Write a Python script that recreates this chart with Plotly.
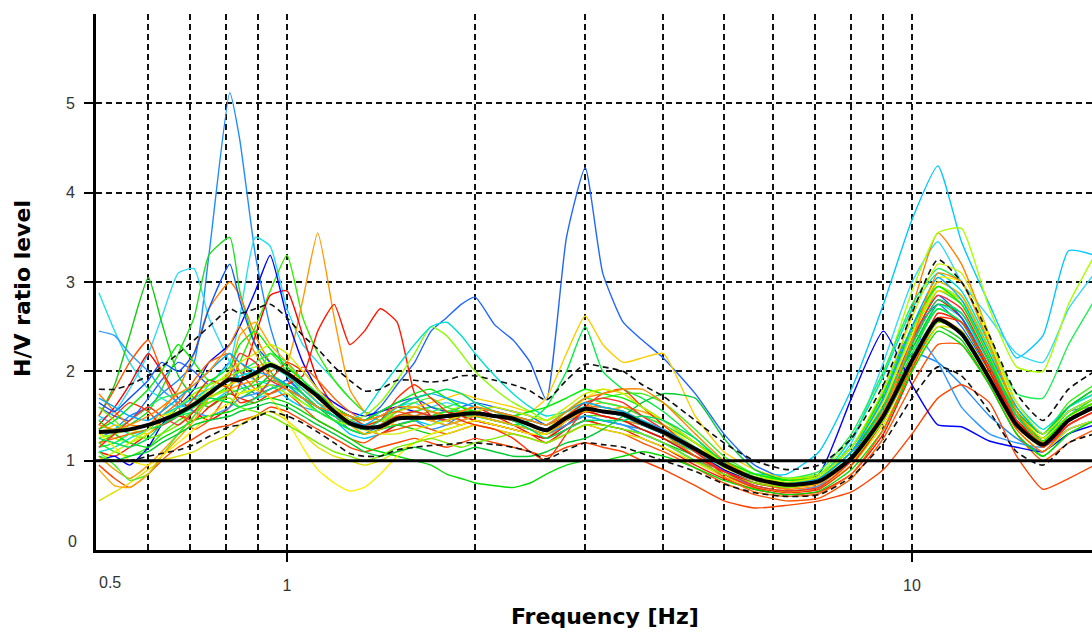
import plotly.graph_objects as go

# ---------------- data ----------------
FREQ = [0.50, 0.53, 0.56, 0.60, 0.63, 0.67, 0.71, 0.75, 0.81, 0.84,
        0.89, 0.94, 1.00, 1.06, 1.12, 1.19, 1.26, 1.33, 1.41, 1.50,
        1.60, 1.70, 1.80, 1.90, 2.00, 2.15, 2.30, 2.45, 2.60, 2.80,
        3.00, 3.20, 3.45, 3.70, 4.00, 4.50, 5.00, 5.60, 6.30, 7.10,
        8.00, 9.00, 10.0, 11.0, 12.0, 13.3, 14.7, 16.2, 17.8, 19.6]

MEAN = [1.32, 1.33, 1.35, 1.40, 1.45, 1.53, 1.63, 1.75, 1.91, 1.90,
        1.98, 2.07, 1.98, 1.85, 1.72, 1.55, 1.42, 1.37, 1.38, 1.47,
        1.48, 1.48, 1.50, 1.52, 1.53, 1.50, 1.47, 1.40, 1.34, 1.48,
        1.58, 1.55, 1.52, 1.42, 1.32, 1.13, 0.95, 0.80, 0.73, 0.77,
        1.03, 1.50, 2.12, 2.58, 2.42, 1.92, 1.40, 1.18, 1.45, 1.60]

UPPER = [1.80, 1.80, 1.85, 1.95, 2.05, 2.20, 2.35, 2.50, 2.70, 2.65,
         2.70, 2.75, 2.60, 2.40, 2.25, 2.05, 1.90, 1.78, 1.80, 1.90,
         1.90, 1.88, 1.90, 1.95, 1.95, 1.90, 1.85, 1.78, 1.68, 1.90,
         2.08, 2.05, 2.00, 1.85, 1.72, 1.45, 1.20, 1.00, 0.90, 0.95,
         1.25, 1.85, 2.65, 3.25, 3.00, 2.40, 1.75, 1.45, 1.80, 2.00]

LOWER = [1.00, 1.00, 1.00, 1.05, 1.08, 1.12, 1.18, 1.27, 1.38, 1.40,
         1.48, 1.55, 1.50, 1.42, 1.32, 1.20, 1.08, 1.05, 1.05, 1.12,
         1.15, 1.17, 1.18, 1.20, 1.20, 1.18, 1.15, 1.10, 1.02, 1.12,
         1.20, 1.18, 1.15, 1.08, 1.00, 0.88, 0.74, 0.64, 0.60, 0.62,
         0.82, 1.20, 1.70, 2.05, 1.95, 1.55, 1.10, 0.95, 1.20, 1.30]

W01 = [1.25, 1.35, 1.50, 1.60, 1.75, 1.90, 2.10, 3.30, 5.12, 4.60,
       3.30, 2.50, 1.95, 1.75, 1.60, 1.50, 1.35, 1.30, 1.40, 1.50,
       1.45, 1.35, 1.40, 1.50, 1.45, 1.40, 1.35, 1.30, 1.25, 1.40,
       1.50, 1.45, 1.40, 1.35, 1.25, 1.05, 0.90, 0.75, 0.70, 0.78,
       1.10, 1.65, 2.20, 2.10, 1.85, 1.50, 1.25, 1.10, 1.35, 1.45]
W02 = [1.60, 1.50, 1.45, 1.70, 1.90, 2.10, 2.00, 1.85, 2.10, 1.90,
       1.75, 1.80, 1.90, 1.75, 1.60, 1.55, 1.50, 1.45, 1.60, 1.85,
       2.10, 2.45, 2.60, 2.75, 2.83, 2.52, 2.35, 2.10, 1.68, 3.50,
       4.28, 3.10, 2.55, 2.35, 2.15, 1.75, 1.30, 0.95, 0.80, 0.85,
       1.15, 1.70, 2.40, 2.75, 2.50, 2.00, 1.50, 1.25, 1.55, 1.60]
W03 = [1.50, 1.40, 1.30, 1.35, 1.50, 1.60, 1.70, 1.65, 1.80, 2.00,
       1.90, 1.85, 1.70, 1.60, 1.55, 1.45, 1.30, 1.25, 1.30, 1.40,
       1.45, 1.40, 1.50, 1.60, 1.55, 1.50, 1.45, 1.35, 1.30, 1.45,
       1.50, 1.45, 1.40, 1.30, 1.20, 1.00, 0.90, 0.85, 0.85, 1.10,
       1.80, 2.75, 3.70, 4.30, 3.45, 2.75, 2.15, 2.40, 3.35, 3.30]
W04 = [2.88, 2.45, 2.10, 1.80, 1.70, 1.60, 1.65, 1.85, 2.10, 2.60,
       3.50, 3.40, 2.70, 2.30, 2.10, 1.90, 1.70, 1.55, 1.50, 1.60,
       1.65, 1.55, 1.50, 1.45, 1.50, 1.45, 1.40, 1.35, 1.30, 1.40,
       1.55, 1.50, 1.45, 1.40, 1.30, 1.10, 0.92, 0.80, 0.75, 0.80,
       1.00, 1.45, 2.15, 2.75, 2.60, 2.10, 1.55, 1.30, 1.55, 1.70]
W05 = [1.45, 1.55, 1.80, 2.20, 2.60, 3.10, 3.15, 2.60, 2.10, 1.85,
       1.70, 1.75, 1.80, 1.70, 1.55, 1.45, 1.40, 1.35, 1.40, 1.50,
       1.55, 1.60, 1.65, 1.60, 1.55, 1.50, 1.45, 1.40, 1.35, 1.45,
       1.55, 1.50, 1.45, 1.35, 1.25, 1.05, 0.90, 0.78, 0.72, 0.80,
       1.20, 2.10, 3.00, 3.45, 3.00, 2.60, 2.20, 2.10, 2.70, 3.10]
W06 = [1.50, 1.85, 2.40, 3.05, 2.55, 1.95, 1.70, 1.60, 1.75, 1.70,
       1.80, 1.95, 1.85, 1.70, 1.60, 1.45, 1.35, 1.30, 1.35, 1.40,
       1.35, 1.30, 1.35, 1.40, 1.45, 1.40, 1.35, 1.30, 1.25, 1.35,
       1.45, 1.40, 1.35, 1.30, 1.20, 1.05, 0.88, 0.72, 0.66, 0.70,
       0.95, 1.45, 2.05, 2.50, 2.35, 1.85, 1.30, 1.05, 1.30, 1.45]
W07 = [1.20, 1.30, 1.40, 1.55, 1.80, 2.20, 2.60, 3.30, 3.50, 2.90,
       2.30, 2.00, 1.80, 1.65, 1.55, 1.45, 1.40, 1.35, 1.40, 1.50,
       1.50, 1.45, 1.50, 1.55, 1.55, 1.50, 1.45, 1.40, 1.35, 1.50,
       1.60, 1.55, 1.50, 1.40, 1.30, 1.10, 0.92, 0.78, 0.70, 0.75,
       1.05, 1.55, 2.20, 2.70, 2.55, 2.00, 1.45, 1.20, 1.50, 1.70]
W08 = [1.20, 1.10, 1.05, 1.15, 1.30, 1.45, 1.55, 1.70, 1.85, 2.10,
       2.50, 2.90, 3.30, 2.60, 2.20, 1.90, 1.70, 1.55, 1.45, 1.50,
       1.55, 1.60, 1.55, 1.50, 1.50, 1.45, 1.40, 1.35, 1.30, 1.40,
       1.50, 1.50, 1.45, 1.35, 1.25, 1.10, 0.95, 0.80, 0.72, 0.78,
       1.05, 1.60, 2.30, 2.90, 2.75, 2.15, 1.50, 1.25, 1.60, 1.80]
W09 = [1.05, 0.90, 0.80, 0.95, 1.10, 1.30, 1.50, 1.70, 1.80, 1.85,
       1.90, 2.00, 2.10, 2.80, 3.55, 2.60, 1.80, 1.55, 1.45, 1.40,
       1.45, 1.50, 1.45, 1.40, 1.45, 1.40, 1.35, 1.30, 1.25, 1.45,
       1.60, 1.65, 1.60, 1.50, 1.40, 1.20, 1.00, 0.85, 0.78, 0.80,
       1.00, 1.45, 2.10, 2.60, 2.45, 1.95, 1.40, 1.15, 1.40, 1.55]
W10 = [1.75, 1.55, 1.40, 1.40, 1.55, 1.80, 2.20, 2.70, 3.00, 2.85,
       2.40, 2.10, 1.95, 1.80, 1.65, 1.55, 1.45, 1.40, 1.45, 1.50,
       1.50, 1.55, 1.50, 1.45, 1.50, 1.45, 1.40, 1.35, 1.30, 1.45,
       1.55, 1.50, 1.45, 1.40, 1.30, 1.10, 0.90, 0.75, 0.68, 0.72,
       0.95, 1.60, 2.70, 3.55, 3.20, 2.40, 1.55, 1.20, 1.45, 1.60]
W11 = [1.40, 1.60, 1.85, 2.20, 2.00, 1.70, 1.55, 1.45, 1.60, 1.85,
       2.40, 2.85, 2.90, 2.40, 1.90, 1.60, 1.45, 1.35, 1.30, 1.40,
       1.45, 1.50, 1.55, 1.50, 1.45, 1.40, 1.35, 1.30, 1.25, 1.40,
       1.55, 1.50, 1.45, 1.35, 1.25, 1.05, 0.88, 0.75, 0.70, 0.75,
       1.00, 1.50, 2.30, 2.80, 2.60, 2.00, 1.45, 1.20, 1.45, 1.60]
W12 = [1.10, 1.05, 1.15, 1.30, 1.40, 1.50, 1.45, 1.60, 1.75, 1.70,
       1.65, 1.75, 1.85, 1.95, 2.45, 2.75, 2.30, 2.45, 2.70, 2.55,
       1.75, 1.50, 1.45, 1.55, 1.60, 1.50, 1.40, 1.30, 1.20, 1.35,
       1.45, 1.40, 1.35, 1.25, 1.15, 0.95, 0.80, 0.68, 0.62, 0.65,
       0.85, 1.30, 2.00, 2.65, 2.55, 2.00, 1.45, 1.25, 1.50, 1.65]
W13 = [1.50, 1.80, 2.10, 2.35, 2.00, 1.60, 1.35, 1.45, 1.80, 2.10,
       1.90, 1.70, 1.75, 1.60, 1.45, 1.35, 1.25, 1.20, 1.30, 1.35,
       1.40, 1.35, 1.30, 1.35, 1.40, 1.35, 1.30, 1.25, 1.20, 1.30,
       1.40, 1.35, 1.30, 1.20, 1.10, 0.92, 0.75, 0.62, 0.55, 0.58,
       0.80, 1.25, 1.85, 2.30, 2.30, 1.85, 1.30, 1.00, 1.20, 1.35]
W14 = [0.95, 0.80, 0.70, 0.85, 1.00, 1.15, 1.25, 1.35, 1.40, 1.45,
       1.50, 1.60, 1.55, 1.45, 1.35, 1.25, 1.15, 1.10, 1.15, 1.20,
       1.25, 1.20, 1.15, 1.20, 1.25, 1.20, 1.15, 1.10, 1.05, 1.15,
       1.20, 1.15, 1.10, 1.00, 0.90, 0.72, 0.55, 0.47, 0.50, 0.55,
       0.65, 0.90, 1.30, 1.70, 1.85, 1.65, 1.05, 0.68, 0.80, 0.95]
W15 = [1.00, 1.05, 0.95, 1.15, 1.40, 1.60, 1.80, 2.10, 2.30, 2.50,
       2.90, 3.30, 2.60, 2.10, 1.80, 1.65, 1.55, 1.50, 1.55, 1.60,
       1.55, 1.50, 1.45, 1.50, 1.55, 1.50, 1.45, 1.40, 1.35, 1.50,
       1.60, 1.55, 1.50, 1.40, 1.30, 1.10, 0.90, 0.78, 0.72, 0.85,
       1.70, 2.45, 1.85, 1.40, 1.38, 1.22, 1.15, 1.10, 1.30, 1.40]
W16 = [1.65, 1.55, 1.70, 1.90, 2.10, 2.00, 2.20, 2.70, 3.20, 2.80,
       2.30, 2.10, 2.00, 1.85, 1.75, 1.60, 1.50, 1.45, 1.55, 1.65,
       1.70, 1.60, 1.55, 1.60, 1.65, 1.60, 1.55, 1.50, 1.40, 1.55,
       1.65, 1.60, 1.55, 1.45, 1.35, 1.15, 0.95, 0.80, 0.72, 0.78,
       1.05, 1.65, 2.35, 2.85, 2.60, 2.05, 1.50, 1.30, 1.60, 1.75]
W17 = [2.45, 2.40, 2.20, 2.00, 1.80, 1.65, 1.55, 1.50, 1.60, 1.70,
       1.75, 1.85, 1.80, 1.70, 1.60, 1.50, 1.40, 1.35, 1.40, 1.45,
       1.50, 1.45, 1.40, 1.45, 1.50, 1.45, 1.40, 1.35, 1.30, 1.40,
       1.50, 1.45, 1.40, 1.30, 1.20, 1.00, 0.85, 0.72, 0.65, 0.72,
       1.05, 1.80, 2.45, 2.10, 1.60, 1.30, 1.20, 1.15, 1.35, 1.45]
W18 = [1.30, 1.25, 1.20, 1.30, 1.45, 1.55, 1.60, 1.70, 1.80, 1.75,
       1.80, 1.85, 1.75, 1.65, 1.55, 1.45, 1.40, 1.40, 1.45, 1.50,
       1.55, 1.50, 1.55, 1.60, 1.55, 1.50, 1.45, 1.40, 1.35, 1.55,
       1.70, 1.65, 1.60, 1.50, 1.40, 1.15, 0.95, 0.82, 0.78, 0.85,
       1.25, 1.95, 2.90, 3.55, 3.60, 2.70, 2.05, 2.00, 2.75, 3.30]
W19 = [1.40, 1.35, 1.45, 1.60, 1.70, 1.75, 1.80, 1.85, 1.95, 2.00,
       2.10, 2.20, 2.10, 1.90, 1.70, 1.55, 1.45, 1.40, 1.45, 1.55,
       1.60, 1.55, 1.60, 1.65, 1.60, 1.55, 1.50, 1.45, 1.40, 1.55,
       1.70, 1.65, 1.60, 1.50, 1.40, 1.20, 1.00, 0.85, 0.80, 0.88,
       1.30, 2.00, 2.75, 3.15, 3.00, 2.35, 1.75, 1.70, 2.30, 2.80]
W20 = [0.55, 0.65, 0.75, 0.90, 1.00, 1.05, 1.10, 1.20, 1.30, 1.40,
       1.50, 1.55, 1.45, 1.30, 1.15, 1.05, 1.00, 0.95, 1.00, 1.10,
       1.20, 1.25, 1.30, 1.35, 1.40, 1.35, 1.30, 1.25, 1.20, 1.30,
       1.40, 1.35, 1.30, 1.25, 1.15, 0.98, 0.82, 0.70, 0.65, 0.70,
       0.95, 1.40, 2.00, 2.50, 2.45, 1.95, 1.35, 1.10, 1.35, 1.45]
W21 = [1.30, 1.40, 1.35, 1.30, 1.45, 1.60, 1.75, 1.80, 1.85, 1.90,
       1.95, 2.05, 2.00, 1.85, 1.70, 1.55, 1.45, 1.40, 1.45, 1.55,
       1.60, 1.65, 1.70, 1.75, 1.70, 1.65, 1.60, 1.55, 1.70, 2.20,
       2.62, 2.30, 2.10, 2.15, 2.20, 1.50, 1.10, 0.90, 0.80, 0.82,
       1.10, 1.70, 2.40, 2.90, 2.80, 2.25, 1.55, 1.25, 1.50, 1.65]
W22 = [1.15, 1.20, 1.30, 1.35, 1.40, 1.50, 1.55, 1.65, 1.75, 1.80,
       1.85, 1.90, 1.85, 1.70, 1.55, 1.45, 1.35, 1.30, 1.35, 1.40,
       1.45, 1.50, 1.55, 1.55, 1.50, 1.45, 1.40, 1.45, 1.60, 2.00,
       2.50, 2.00, 1.80, 1.70, 1.55, 1.25, 0.98, 0.82, 0.75, 0.80,
       1.10, 1.65, 2.25, 2.70, 2.55, 2.05, 1.50, 1.25, 1.55, 1.70]
W23 = [1.45, 1.30, 1.20, 1.15, 1.25, 1.35, 1.45, 1.50, 1.55, 1.60,
       1.65, 1.70, 1.65, 1.55, 1.45, 1.35, 1.25, 1.15, 1.10, 1.05,
       1.00, 0.95, 0.85, 0.80, 0.75, 0.72, 0.70, 0.75, 0.85, 0.95,
       1.00, 1.00, 1.05, 1.10, 1.05, 0.92, 0.78, 0.68, 0.62, 0.66,
       0.90, 1.35, 2.00, 2.45, 2.30, 1.85, 1.30, 1.05, 1.30, 1.45]
W24 = [1.10, 0.95, 0.78, 0.85, 1.05, 1.30, 1.50, 1.70, 1.65, 1.75,
       1.90, 2.20, 2.00, 1.75, 1.60, 1.50, 1.40, 1.35, 1.40, 1.55,
       1.65, 1.70, 1.60, 1.55, 1.50, 1.45, 1.40, 1.35, 1.30, 1.50,
       1.65, 1.70, 1.75, 1.75, 1.65, 1.35, 1.05, 0.85, 0.78, 0.82,
       1.15, 1.75, 2.45, 3.00, 2.85, 2.25, 1.60, 1.30, 1.65, 1.85]
W25 = [1.20, 1.25, 1.30, 1.35, 1.50, 1.65, 1.90, 2.10, 2.20, 2.00,
       1.80, 1.75, 1.85, 2.05, 1.90, 1.70, 1.55, 1.45, 1.50, 1.55,
       1.50, 1.45, 1.50, 1.55, 1.60, 1.55, 1.50, 1.45, 1.40, 1.50,
       1.60, 1.60, 1.55, 1.45, 1.30, 1.05, 0.82, 0.65, 0.60, 0.63,
       0.85, 1.35, 2.05, 2.55, 2.45, 1.90, 1.35, 1.10, 1.40, 1.55]
W26 = [0.90, 0.72, 0.70, 0.85, 1.05, 1.25, 1.45, 1.70, 2.00, 2.40,
       2.55, 2.30, 2.10, 1.85, 1.65, 1.50, 1.40, 1.30, 1.35, 1.45,
       1.50, 1.45, 1.40, 1.45, 1.50, 1.45, 1.40, 1.35, 1.30, 1.45,
       1.55, 1.55, 1.60, 1.55, 1.45, 1.20, 0.95, 0.78, 0.70, 0.74,
       1.00, 1.50, 2.35, 3.00, 2.85, 2.20, 1.50, 1.20, 1.45, 1.60]
W27 = [1.25, 1.30, 1.35, 1.40, 1.45, 1.60, 1.75, 1.85, 1.95, 2.00,
       2.05, 2.10, 2.00, 1.85, 1.70, 1.55, 1.45, 1.50, 1.65, 1.90,
       2.20, 2.50, 2.40, 2.20, 2.00, 1.80, 1.65, 1.55, 1.45, 1.55,
       1.65, 1.60, 1.55, 1.45, 1.35, 1.15, 0.98, 0.85, 0.80, 0.85,
       1.15, 1.70, 2.40, 2.95, 2.80, 2.15, 1.55, 1.30, 1.60, 1.75]
W28 = [1.10, 1.15, 1.25, 1.35, 1.50, 1.60, 1.70, 1.80, 1.90, 1.95,
       2.00, 2.05, 1.95, 1.80, 1.65, 1.50, 1.45, 1.55, 1.80, 2.05,
       2.30, 2.50, 2.55, 2.40, 2.20, 1.95, 1.75, 1.60, 1.50, 1.55,
       1.60, 1.55, 1.50, 1.40, 1.30, 1.10, 0.92, 0.78, 0.72, 0.80,
       1.25, 1.95, 2.70, 3.10, 2.90, 2.30, 1.65, 1.35, 1.60, 1.75]
W29 = [1.30, 1.15, 1.00, 0.95, 1.05, 1.20, 1.35, 1.50, 1.65, 1.75,
       1.80, 1.70, 1.45, 1.15, 0.90, 0.75, 0.66, 0.70, 0.85, 1.05,
       1.20, 1.30, 1.35, 1.40, 1.45, 1.40, 1.35, 1.30, 1.30, 1.50,
       1.70, 1.80, 1.75, 1.60, 1.40, 1.15, 0.92, 0.78, 0.72, 0.78,
       1.10, 1.65, 2.40, 3.05, 3.00, 2.35, 1.60, 1.25, 1.50, 1.65]
W30 = [1.05, 1.00, 1.05, 1.10, 1.20, 1.30, 1.40, 1.45, 1.50, 1.55,
       1.60, 1.65, 1.60, 1.50, 1.40, 1.30, 1.20, 1.10, 1.05, 1.10,
       1.15, 1.10, 1.05, 1.10, 1.15, 1.10, 1.05, 1.05, 1.10, 1.20,
       1.25, 1.35, 1.50, 1.65, 1.75, 1.70, 1.25, 0.90, 0.78, 0.80,
       1.10, 1.60, 2.25, 2.75, 2.65, 2.10, 1.55, 1.30, 1.60, 1.80]
W31 = [1.35, 1.50, 1.65, 1.55, 1.40, 1.50, 1.70, 1.90, 1.80, 1.65,
       1.70, 1.90, 2.10, 2.00, 1.80, 1.60, 1.50, 1.40, 1.45, 1.70,
       1.85, 1.70, 1.55, 1.45, 1.40, 1.35, 1.25, 1.10, 1.00, 1.30,
       1.60, 1.75, 1.80, 1.60, 1.40, 1.10, 0.85, 0.70, 0.64, 0.68,
       0.95, 1.45, 2.10, 2.60, 2.55, 2.05, 1.45, 1.15, 1.40, 1.55]
W32 = [1.60, 1.45, 1.30, 1.25, 1.30, 1.40, 1.55, 1.65, 1.70, 1.60,
       1.55, 1.50, 1.40, 1.30, 1.20, 1.10, 1.05, 1.00, 1.05, 1.15,
       1.20, 1.25, 1.20, 1.15, 1.20, 1.25, 1.30, 1.25, 1.20, 1.30,
       1.40, 1.40, 1.35, 1.30, 1.20, 1.00, 0.85, 0.75, 0.70, 0.76,
       1.00, 1.45, 2.10, 2.55, 2.45, 1.95, 1.40, 1.15, 1.45, 1.60]
W33 = [1.35, 1.45, 1.60, 1.80, 2.00, 2.30, 2.10, 1.90, 2.05, 2.30,
       2.45, 2.25, 2.05, 1.90, 1.75, 1.60, 1.50, 1.45, 1.55, 1.65,
       1.75, 1.80, 1.70, 1.60, 1.55, 1.50, 1.50, 1.55, 1.60, 1.70,
       1.80, 1.75, 1.70, 1.60, 1.45, 1.20, 1.00, 0.85, 0.78, 0.82,
       1.15, 1.75, 2.50, 2.95, 2.75, 2.15, 1.50, 1.22, 1.50, 1.65]
W34 = [1.15, 1.30, 1.45, 1.60, 1.50, 1.40, 1.55, 1.75, 1.95, 2.20,
       2.10, 1.90, 1.80, 1.70, 1.60, 1.50, 1.40, 1.35, 1.40, 1.50,
       1.55, 1.50, 1.45, 1.50, 1.55, 1.50, 1.45, 1.40, 1.35, 1.50,
       1.65, 1.70, 1.65, 1.50, 1.35, 1.10, 0.88, 0.72, 0.66, 0.70,
       1.00, 1.55, 2.35, 2.85, 2.70, 2.10, 1.45, 1.15, 1.40, 1.55]
W35 = [1.70, 1.60, 1.50, 1.45, 1.55, 1.70, 1.85, 2.00, 2.20, 2.10,
       2.00, 1.95, 1.85, 1.70, 1.60, 1.50, 1.45, 1.40, 1.50, 1.60,
       1.70, 1.75, 1.70, 1.65, 1.60, 1.55, 1.50, 1.45, 1.40, 1.55,
       1.65, 1.60, 1.55, 1.45, 1.35, 1.15, 0.95, 0.80, 0.74, 0.80,
       1.10, 1.70, 2.50, 3.05, 2.80, 2.20, 1.60, 1.30, 1.55, 1.70]
W36 = [1.00, 1.10, 1.20, 1.35, 1.50, 1.55, 1.65, 1.80, 2.00, 2.10,
       2.20, 2.30, 2.20, 2.00, 1.80, 1.60, 1.45, 1.35, 1.30, 1.30,
       1.35, 1.40, 1.45, 1.50, 1.55, 1.60, 1.55, 1.50, 1.45, 1.60,
       1.75, 1.80, 1.75, 1.60, 1.45, 1.20, 0.98, 0.82, 0.76, 0.82,
       1.15, 1.80, 2.60, 3.20, 3.10, 2.40, 1.65, 1.30, 1.55, 1.70]
W37 = [1.25, 1.20, 1.15, 1.25, 1.40, 1.50, 1.60, 1.70, 1.65, 1.60,
       1.70, 1.80, 1.85, 1.75, 1.60, 1.50, 1.40, 1.35, 1.45, 1.60,
       1.70, 1.75, 1.80, 1.75, 1.65, 1.55, 1.45, 1.35, 1.25, 1.35,
       1.45, 1.45, 1.45, 1.50, 1.45, 1.25, 0.98, 0.80, 0.72, 0.76,
       1.05, 1.60, 2.30, 2.80, 2.65, 2.10, 1.50, 1.20, 1.45, 1.60]
W38 = [1.40, 1.35, 1.40, 1.50, 1.60, 1.75, 1.85, 2.00, 2.30, 2.50,
       2.20, 1.95, 1.80, 1.70, 1.60, 1.55, 1.50, 1.45, 1.50, 1.60,
       1.60, 1.55, 1.50, 1.55, 1.60, 1.55, 1.50, 1.45, 1.40, 1.55,
       1.70, 1.75, 1.80, 1.80, 1.65, 1.30, 1.00, 0.80, 0.72, 0.76,
       1.05, 1.55, 2.35, 3.10, 3.00, 2.30, 1.55, 1.20, 1.45, 1.60]

WINDOWS = [W01, W02, W03, W04, W05, W06, W07, W08, W09, W10,
           W11, W12, W13, W14, W15, W16, W17, W18, W19, W20,
           W21, W22, W23, W24, W25, W26, W27, W28, W29, W30,
           W31, W32, W33, W34, W35, W36, W37, W38]
WINDOW_COLORS = ["#1e8cff", "#2266ff", "#00c8ff", "#22e0f0", "#33d8ff",
                 "#11cc11", "#22dd22", "#33ee00", "#ff9900", "#ff7f00",
                 "#ff0000", "#ff1a00", "#ff5500", "#ff4400", "#0000ff",
                 "#1155ff", "#3399ff", "#aaff00", "#22ee55", "#e0e000",
                 "#ffcc00", "#00ee44", "#00dd00", "#44ee22", "#ff6600",
                 "#ffaa00", "#88ff00", "#00e0d0", "#ffee00", "#00cc33",
                 "#ff3300", "#77ee00", "#00f000", "#ff2a2a", "#00aaff",
                 "#ccee00", "#00dd66", "#ff8800"]

X_TICKS = [1, 10]
X_TICK_TEXT = ["1", "10"]
X_MINOR = [0.6, 0.7, 0.8, 0.9, 2, 3, 4, 5, 6, 7, 8, 9]
Y_TICKS = [1, 2, 3, 4, 5]
REF_LEVEL = 1.0

# ---------------- figure ----------------
fig = go.Figure()
for vals, col in zip(WINDOWS, WINDOW_COLORS):
    fig.add_trace(go.Scatter(x=FREQ, y=vals, mode="lines",
                             line=dict(color=col, width=1.4, shape="spline", smoothing=0.5),
                             hoverinfo="skip"))
for vals in (UPPER, LOWER):
    fig.add_trace(go.Scatter(x=FREQ, y=vals, mode="lines",
                             line=dict(color="#111111", width=1.6, dash="6px,4px",
                                       shape="spline", smoothing=0.6),
                             hoverinfo="skip"))
fig.add_trace(go.Scatter(x=FREQ, y=MEAN, mode="lines",
                         line=dict(color="black", width=4, shape="spline", smoothing=0.6),
                         hoverinfo="skip"))

fig.add_shape(type="line", xref="paper", x0=0, x1=1, yref="y", y0=REF_LEVEL, y1=REF_LEVEL,
              line=dict(color="black", width=3), layer="above")

grid = dict(gridcolor="#111111", gridwidth=2, griddash="6px,4px")
tickfont = dict(family="Liberation Sans, Arial, sans-serif", size=16, color="#333333")

fig.update_layout(
    width=1092, height=635,
    margin=dict(l=96, r=0, t=14, b=85),
    paper_bgcolor="white", plot_bgcolor="white",
    showlegend=False,
    xaxis=dict(type="log", range=[-0.3056, 1.288],
               showline=True, linewidth=3, linecolor="black", zeroline=False,
               tickmode="array", tickvals=X_TICKS, ticktext=X_TICK_TEXT,
               ticks="outside", ticklen=9, tickwidth=1.5, tickcolor="black",
               ticklabelstandoff=10, tickfont=tickfont,
               showgrid=True, **grid,
               minor=dict(tickmode="array", tickvals=X_MINOR, ticks="", showgrid=True, **grid)),
    yaxis=dict(range=[0, 6],
               showline=True, linewidth=3, linecolor="black", zeroline=False,
               tickmode="array", tickvals=Y_TICKS, ticktext=[str(v) for v in Y_TICKS],
               ticks="outside", ticklen=9, tickwidth=1.5, tickcolor="black",
               ticklabelstandoff=6, tickfont=tickfont,
               showgrid=True, **grid),
    annotations=[
        dict(text="0.5", xref="paper", yref="paper", x=(109.5 - 96) / 996, y=-(582 - 550) / 536,
             showarrow=False, xanchor="center", yanchor="middle", font=tickfont),
        dict(text="0", xref="paper", yref="paper", x=-(96 - 72) / 996, y=(550 - 541) / 536,
             showarrow=False, xanchor="center", yanchor="middle", font=tickfont),
        dict(text="<b>Frequency [Hz]</b>", xref="paper", yref="paper",
             x=(604.5 - 96) / 996, y=-(616 - 550) / 536,
             showarrow=False, xanchor="center", yanchor="middle",
             font=dict(family="DejaVu Sans, Arial, sans-serif", size=22, color="black")),
        dict(text="<b>H/V ratio level</b>", xref="paper", yref="paper",
             x=-(96 - 22) / 996, y=(550 - 289) / 536, textangle=-90,
             showarrow=False, xanchor="center", yanchor="middle",
             font=dict(family="DejaVu Sans, Arial, sans-serif", size=22, color="black")),
    ],
)

fig.write_html("out.html", config={"displayModeBar": False},
               post_script="document.body.style.margin='0';document.body.style.overflow='hidden';")
